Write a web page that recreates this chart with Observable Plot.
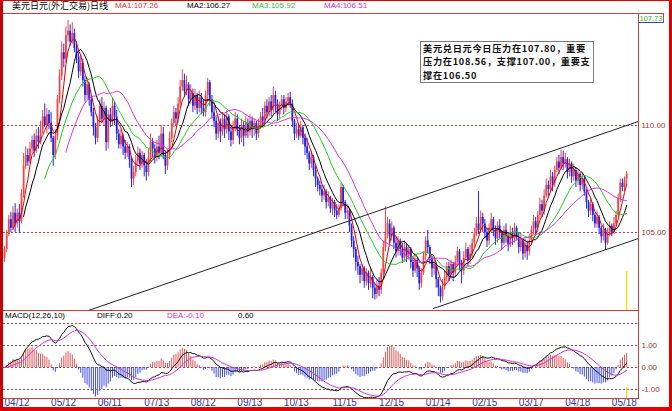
<!DOCTYPE html>
<html><head><meta charset="utf-8">
<script src="https://cdn.jsdelivr.net/npm/d3@7"></script>
<script src="https://cdn.jsdelivr.net/npm/@observablehq/plot@0.6"></script>
<style>
html,body{margin:0;padding:0;background:#fff;}
#wrap{position:relative;width:672px;height:411px;overflow:hidden;background:#fff;font-family:"Liberation Sans",Arial,sans-serif;}
.t{position:absolute;white-space:nowrap;font-size:8px;line-height:10px;color:#000;}
.ln{position:absolute;background:#cc4040;z-index:3;}
#main{position:absolute;left:0;top:13px;}
#macd{position:absolute;left:0;top:310px;}
#border{position:absolute;left:0;top:0;width:672px;height:411px;box-sizing:border-box;border-left:3px solid #c80000;border-right:3px solid #e00000;border-top:1px solid #e00000;border-bottom:4px solid #e80000;z-index:6;pointer-events:none;}
#note{position:absolute;left:420px;top:41px;width:172px;height:40px;border:1px solid #7a7a7a;background:#fff;z-index:4;}
.nl{position:absolute;left:2px;white-space:nowrap;font-family:"Noto Sans CJK SC",sans-serif;font-weight:bold;font-size:9.2px;line-height:13.3px;letter-spacing:0.7px;color:#111;}
#last{position:absolute;left:638px;top:13px;width:24px;height:8px;border:1px solid #cc4040;border-bottom:1px solid #3344cc;color:#30c030;font-size:7.5px;line-height:9px;text-align:center;z-index:4;background:#fff;}
</style></head>
<body><div id="wrap">
<div class="t" style="left:12px;top:1px;font-family:'Noto Sans CJK SC',sans-serif;font-size:9px;line-height:11px;top:0px;">美元日元(外汇交易)日线</div>
<div class="t" style="left:115px;top:1px;color:#e83030;">MA1:107.26</div>
<div class="t" style="left:187px;top:1px;">MA2:106.27</div>
<div class="t" style="left:252px;top:1px;color:#30c030;">MA3:105.92</div>
<div class="t" style="left:324px;top:1px;color:#d030d0;">MA4:106.51</div>
<div id="main"></div>
<div id="macd"></div>
<div class="t" style="left:5px;top:311px;z-index:4;">MACD(12,26,10)</div>
<div class="t" style="left:97px;top:311px;z-index:4;">DIFF:0.20</div>
<div class="t" style="left:167px;top:311px;z-index:4;color:#d030d0;">DEA:-0.10</div>
<div class="t" style="left:238px;top:311px;z-index:4;">0.60</div>
<div id="note">
<div class="nl" style="top:0px;">美元兑日元今日压力在107.80，重要</div>
<div class="nl" style="top:13.3px;">压力在108.56，支撑107.00，重要支</div>
<div class="nl" style="top:26.6px;">撑在106.50</div>
</div>
<div class="ln" style="left:3px;top:13px;width:661px;height:1px;"></div>
<div class="ln" style="left:638px;top:13px;width:1px;height:386px;"></div>
<div class="ln" style="left:3px;top:310px;width:636px;height:1px;"></div>
<div class="ln" style="left:3px;top:398px;width:636px;height:1px;"></div>
<div id="last">107.73</div>
<div id="border"></div>
</div>
<script>
const open = [
103.80,104.20,104.90,105.60,105.20,105.90,105.40,105.90,105.50,106.80,
108.10,108.60,108.30,108.90,109.30,108.80,109.50,109.20,109.80,110.40,
110.00,110.50,110.10,109.40,108.60,109.50,111.20,112.30,113.40,113.10,
114.20,114.40,113.90,114.30,113.60,113.20,112.50,112.90,112.10,111.40,
111.90,111.20,110.60,109.90,109.40,110.20,110.90,110.30,110.80,109.20,
110.50,110.20,110.90,110.40,109.60,109.10,109.50,109.00,108.70,109.00,
108.40,107.50,107.80,108.30,108.70,108.20,108.60,108.10,107.80,108.50,
109.20,108.90,108.50,109.00,108.70,109.60,108.60,108.10,108.60,109.40,
110.10,110.60,110.30,111.00,111.80,112.10,111.60,111.90,111.20,111.50,
110.90,111.40,110.80,111.30,110.80,110.60,111.40,112.00,111.20,110.60,
110.20,109.60,110.10,109.70,110.30,109.80,110.40,109.70,109.30,109.90,
110.30,109.80,109.40,110.00,109.50,110.10,109.70,110.20,109.80,110.10,
109.60,110.00,110.40,110.20,110.90,110.60,111.10,110.70,111.40,111.00,
110.50,110.90,111.20,110.80,111.10,111.30,111.00,110.20,109.60,109.80,
109.50,109.90,109.40,109.00,108.70,108.20,108.50,107.90,107.50,107.20,
107.00,106.70,106.90,106.40,106.60,106.10,106.40,106.00,105.80,106.10,
107.10,106.40,105.90,106.00,105.30,104.60,104.20,103.60,103.40,103.00,
103.30,102.70,103.10,102.60,102.90,102.40,102.10,102.50,102.30,103.10,
104.30,104.90,105.40,104.80,105.20,104.50,104.10,104.60,104.20,103.80,
104.30,103.90,104.20,103.60,103.20,103.70,103.30,102.60,103.10,103.90,
104.60,104.30,103.80,103.30,103.50,102.80,102.40,102.00,102.50,102.90,
103.40,103.00,103.50,103.10,103.60,104.10,103.50,103.20,103.80,104.20,
103.70,104.00,104.50,104.90,105.40,105.10,105.70,105.40,105.00,104.60,
105.20,105.60,105.10,104.70,105.30,105.00,104.50,105.10,104.80,104.40,
105.00,104.70,105.20,104.80,104.30,104.60,104.00,104.40,104.10,104.60,
105.10,105.50,105.20,105.80,106.30,106.00,106.70,107.20,107.00,107.60,
107.30,107.90,108.30,108.00,108.50,108.20,108.40,107.80,108.20,107.60,
107.90,107.40,107.70,107.20,107.50,106.90,106.40,106.00,106.30,105.80,
105.40,105.70,105.20,104.80,105.10,104.50,104.90,105.30,105.00,105.40,
105.80,106.60,107.30,107.10,107.50];
const high = [
104.35,105.10,105.80,105.95,106.20,106.35,106.10,106.30,107.00,108.70,
109.00,108.90,109.20,109.50,109.60,109.80,109.90,110.20,110.70,111.00,
110.80,110.70,110.60,109.50,109.80,111.40,112.60,113.90,113.80,114.60,
114.91,114.70,114.80,114.50,113.90,113.40,113.30,113.10,112.30,112.20,
112.00,111.40,110.80,110.10,110.40,111.20,111.30,111.10,110.90,110.70,
110.80,111.30,111.10,110.70,109.80,109.80,109.60,109.30,109.20,109.10,
108.50,108.10,108.60,109.00,108.90,108.80,108.70,108.40,108.90,109.60,
109.40,109.10,109.30,109.50,110.00,109.90,108.80,108.90,109.70,110.30,
110.90,110.80,111.30,112.10,112.60,112.40,112.30,112.00,111.90,111.70,
111.70,111.50,111.60,111.50,111.20,111.60,112.20,112.10,111.40,110.90,
110.40,110.40,110.30,110.60,110.50,110.70,110.50,109.90,110.20,110.60,
110.50,110.00,110.30,110.20,110.40,110.30,110.50,110.40,110.30,110.20,
110.30,110.60,110.80,111.10,111.20,111.30,111.40,111.80,111.60,111.20,
111.10,111.40,111.40,111.30,111.50,111.55,111.20,110.30,110.10,110.00,
110.20,110.00,109.60,109.40,108.80,108.80,108.60,108.10,107.60,107.40,
107.20,107.20,107.00,106.90,106.70,106.60,106.50,106.30,106.30,107.30,
107.20,106.50,106.20,106.10,105.40,104.80,104.30,103.90,103.50,103.50,
103.40,103.30,103.20,103.30,103.00,102.60,102.80,102.90,103.30,104.60,
106.20,105.70,105.60,105.50,105.30,104.80,104.80,104.70,104.50,104.60,
104.50,104.40,104.30,103.80,104.00,103.80,103.40,103.30,104.10,104.80,
105.10,104.40,103.90,103.80,103.60,102.90,102.50,102.80,103.20,103.60,
103.60,103.70,103.60,103.90,104.30,104.20,103.70,104.10,104.50,104.30,
104.40,104.70,105.20,105.70,106.90,106.00,105.90,105.60,105.20,105.40,
105.90,105.70,105.30,105.50,105.60,105.10,105.30,105.40,104.90,105.30,
105.20,105.40,105.30,105.00,104.90,104.70,104.70,104.60,104.90,105.30,
105.80,105.70,106.00,106.60,106.50,107.00,107.50,107.40,107.90,107.80,
108.10,108.50,108.60,108.85,108.80,108.70,108.50,108.40,108.30,108.20,
108.00,107.90,107.80,107.80,107.60,107.00,106.50,106.60,106.40,105.90,
106.00,105.80,105.30,105.40,105.20,105.20,105.50,105.40,105.70,106.00,
106.80,107.50,107.50,107.60,107.85];
const low = [
103.60,104.05,104.80,105.00,105.10,105.00,105.20,104.95,105.40,106.60,
107.95,108.10,108.20,108.70,108.50,108.70,108.90,109.10,109.60,109.90,
109.60,109.80,109.20,108.10,108.40,109.30,111.00,112.10,112.70,112.90,
113.90,113.70,113.80,113.40,112.90,112.20,112.30,111.80,111.10,111.20,
110.90,110.40,109.50,109.10,109.20,110.00,110.10,110.00,108.80,108.90,
109.90,110.00,110.00,109.30,108.90,108.90,108.60,108.40,108.50,108.00,
107.10,107.20,107.60,108.10,107.90,108.00,107.60,107.40,107.60,108.30,
108.50,108.20,108.30,108.40,108.50,108.40,107.70,107.90,108.40,109.20,
109.90,110.00,110.10,110.80,111.60,111.30,111.40,110.90,111.00,110.60,
110.70,110.50,110.60,110.50,110.40,110.40,111.10,110.90,110.30,109.90,
109.30,109.40,109.20,109.50,109.40,109.60,109.30,109.00,109.10,109.70,
109.50,109.10,109.20,109.00,109.40,109.40,109.50,109.40,109.50,109.30,
109.40,109.80,109.90,110.00,110.30,110.40,110.40,110.50,110.60,110.20,
110.30,110.70,110.50,110.60,110.90,110.80,109.90,109.30,109.40,109.30,
109.40,109.10,108.60,108.40,107.90,108.00,107.60,107.10,106.90,106.70,
106.40,106.50,106.10,106.20,105.90,105.80,105.70,105.60,105.70,106.00,
106.20,105.60,105.60,105.00,104.30,103.80,103.20,103.00,102.60,102.70,
102.40,102.50,102.30,102.40,101.90,101.85,101.90,102.00,102.10,103.00,
104.10,104.70,104.50,104.60,104.20,103.80,103.90,103.90,103.55,103.60,
103.60,103.70,103.30,102.90,103.10,102.90,102.30,102.40,103.00,103.70,
104.00,103.50,102.90,103.00,102.40,102.00,101.70,101.80,102.30,102.70,
102.70,102.80,102.70,102.90,103.40,103.20,102.60,103.00,103.70,103.40,
103.50,103.80,104.30,104.80,104.90,105.00,105.00,104.70,104.30,104.40,
105.00,104.80,104.40,104.50,104.70,104.20,104.40,104.50,104.10,104.30,
104.40,104.50,104.60,104.00,104.10,103.70,103.80,103.70,103.90,104.40,
104.90,104.90,105.00,105.60,105.70,105.80,106.60,106.60,106.90,106.90,
107.10,107.80,107.70,107.90,107.90,108.00,107.50,107.60,107.30,107.40,
107.10,107.20,106.90,107.00,106.70,106.10,105.70,105.80,105.50,105.20,
105.20,104.90,104.50,104.60,104.16,104.40,104.80,104.80,104.90,105.30,
105.70,106.40,106.90,106.90,107.20];
const close = [
104.20,104.90,105.60,105.20,105.90,105.40,105.90,105.50,106.80,108.10,
108.60,108.30,108.90,109.30,108.80,109.50,109.20,109.80,110.40,110.00,
110.50,110.10,109.40,108.60,109.50,111.20,112.30,113.40,113.10,114.20,
114.40,113.90,114.30,113.60,113.20,112.50,112.90,112.10,111.40,111.90,
111.20,110.60,109.90,109.40,110.20,110.90,110.30,110.80,109.20,110.50,
110.20,110.90,110.40,109.60,109.10,109.50,109.00,108.70,109.00,108.40,
107.50,107.80,108.30,108.70,108.20,108.60,108.10,107.80,108.50,109.20,
108.90,108.50,109.00,108.70,109.60,108.60,108.10,108.60,109.40,110.10,
110.60,110.30,111.00,111.80,112.10,111.60,111.90,111.20,111.50,110.90,
111.40,110.80,111.30,110.80,110.60,111.40,112.00,111.20,110.60,110.20,
109.60,110.10,109.70,110.30,109.80,110.40,109.70,109.30,109.90,110.30,
109.80,109.40,110.00,109.50,110.10,109.70,110.20,109.80,110.10,109.60,
110.00,110.40,110.20,110.90,110.60,111.10,110.70,111.40,111.00,110.50,
110.90,111.20,110.80,111.10,111.30,111.00,110.20,109.60,109.80,109.50,
109.90,109.40,109.00,108.70,108.20,108.50,107.90,107.50,107.20,107.00,
106.70,106.90,106.40,106.60,106.10,106.40,106.00,105.80,106.10,107.10,
106.40,105.90,106.00,105.30,104.60,104.20,103.60,103.40,103.00,103.30,
102.70,103.10,102.60,102.90,102.40,102.10,102.50,102.30,103.10,104.30,
104.90,105.40,104.80,105.20,104.50,104.10,104.60,104.20,103.80,104.30,
103.90,104.20,103.60,103.20,103.70,103.30,102.60,103.10,103.90,104.60,
104.30,103.80,103.30,103.50,102.80,102.40,102.00,102.50,102.90,103.40,
103.00,103.50,103.10,103.60,104.10,103.50,103.20,103.80,104.20,103.70,
104.00,104.50,104.90,105.40,105.10,105.70,105.40,105.00,104.60,105.20,
105.60,105.10,104.70,105.30,105.00,104.50,105.10,104.80,104.40,105.00,
104.70,105.20,104.80,104.30,104.60,104.00,104.40,104.10,104.60,105.10,
105.50,105.20,105.80,106.30,106.00,106.70,107.20,107.00,107.60,107.30,
107.90,108.30,108.00,108.50,108.20,108.40,107.80,108.20,107.60,107.90,
107.40,107.70,107.20,107.50,106.90,106.40,106.00,106.30,105.80,105.40,
105.70,105.20,104.80,105.10,104.50,104.90,105.30,105.00,105.40,105.80,
106.60,107.30,107.10,107.50,107.73];

const dateIdx = [0,22,44,66,88,110,132,155,177,199,221,243,265,287];
const dateLabels = ["04/12","05/12","06/11","07/13","08/12","09/13","10/13","11/15","12/15","01/14","02/15","03/17","04/18","05/18"];
const priceTicks = [105, 110];
const macdTicks = [1, 0, -1];
const macdGrid = [2, 1, 0, -1];
const maPeriods = [5, 10, 20, 30];
const maColors = ["#e00000", "#000000", "#20cc20", "#e030e0"];
const trendUpperIdx = [39.7, 299.6], trendUpperPx = [101.36, 110.19];
const trendLowerIdx = [202.7, 299.6], trendLowerPx = [101.45, 104.72];
const cursorPriceTop = 103.18, cursorMacdTop = -0.91;

const bars = close.map((c, i) => ({i, open: open[i], high: high[i], low: low[i], close: c, up: c >= open[i]}));
const lastIdx = bars.length - 1;
const upper = trendUpperIdx.map((x, k) => ({i: x, p: trendUpperPx[k]}));
const lower = trendLowerIdx.map((x, k) => ({i: x, p: trendLowerPx[k]}));

function ema(arr, n) {
  const a = 2 / (n + 1); const out = []; let e = arr[0];
  for (let k = 0; k < arr.length; k++) { if (k > 0) e = e + a * (arr[k] - e); out.push(e); }
  return out;
}
const e12 = ema(close, 12), e26 = ema(close, 26);
const diff = e12.map((v, k) => v - e26[k]);
const dea = ema(diff, 10);
const macdRows = close.map((c, k) => ({i: k, diff: diff[k], dea: dea[k], m: 2 * (diff[k] - dea[k])}));

const UP = "#e84848", DOWN = "#2222e6";
const xDom = [-0.5, 299.6];
const yMain = [101.355, 115.234];

const mainPlot = Plot.plot({
  width: 672, height: 297,
  marginLeft: 3, marginRight: 34, marginTop: 0, marginBottom: 0,
  style: {background: "transparent", fontFamily: "Liberation Sans, Arial, sans-serif"},
  x: {type: "linear", domain: xDom, axis: null},
  y: {domain: yMain, axis: null},
  marks: [
    Plot.ruleY(priceTicks, {stroke: "#b04040", strokeDasharray: "2,2", strokeWidth: 1}),
    Plot.ruleX(bars, {filter: d => d.up, x: "i", y1: "low", y2: "high", stroke: UP, strokeWidth: 1}),
    Plot.ruleX(bars, {filter: d => !d.up, x: "i", y1: "low", y2: "high", stroke: DOWN, strokeWidth: 1}),
    Plot.ruleX(bars, {filter: d => d.up, x: "i", y1: "open", y2: "close", stroke: UP, strokeWidth: 1.8}),
    Plot.ruleX(bars, {filter: d => !d.up, x: "i", y1: "open", y2: "close", stroke: DOWN, strokeWidth: 1.8}),
    ...maPeriods.map((k, j) => Plot.lineY(bars, Plot.windowY({k, anchor: "end", strict: true, reduce: "mean"}, {x: "i", y: "close", stroke: maColors[j], strokeWidth: 1}))),
    Plot.line(upper, {x: "i", y: "p", stroke: "#222", strokeWidth: 1, clip: true}),
    Plot.line(lower, {x: "i", y: "p", stroke: "#222", strokeWidth: 1, clip: true}),
    Plot.ruleX([lastIdx], {x: d => d, y1: cursorPriceTop, y2: yMain[0], stroke: "#f0e020", strokeWidth: 1.5}),
    Plot.text(priceTicks, {y: d => d, text: d => d.toFixed(2), frameAnchor: "right", dx: 3, textAnchor: "start", fill: "#a03434", fontSize: 8})
  ]
});
document.getElementById("main").appendChild(mainPlot);

const macdPlot = Plot.plot({
  width: 672, height: 101,
  marginLeft: 3, marginRight: 34, marginTop: 0, marginBottom: 13,
  style: {background: "transparent", fontFamily: "Liberation Sans, Arial, sans-serif"},
  x: {type: "linear", domain: xDom, axis: null},
  y: {domain: [-1.409, 2.591], axis: null},
  marks: [
    Plot.ruleY(macdGrid, {stroke: "#b04040", strokeDasharray: "2,2", strokeWidth: 1}),
    Plot.ruleX(macdRows, {filter: d => d.m >= 0, x: "i", y1: 0, y2: "m", stroke: "#e05858", strokeWidth: 1}),
    Plot.ruleX(macdRows, {filter: d => d.m < 0, x: "i", y1: 0, y2: "m", stroke: "#4050e6", strokeWidth: 1}),
    Plot.line(macdRows, {x: "i", y: "diff", stroke: "#111", strokeWidth: 1}),
    Plot.line(macdRows, {x: "i", y: "dea", stroke: "#d030d0", strokeWidth: 1}),
    Plot.ruleX([lastIdx], {x: d => d, y1: cursorMacdTop, y2: -1.409, stroke: "#f0e020", strokeWidth: 1.5}),
    Plot.text(macdTicks, {y: d => d, text: d => d.toFixed(2), frameAnchor: "right", dx: 3, textAnchor: "start", fill: "#a03434", fontSize: 8}),
    Plot.text(dateIdx, {x: d => d, text: (d, k) => dateLabels[k], frameAnchor: "bottom", dy: 7, textAnchor: "start", fill: "#2040a0", fontSize: 10})
  ]
});
document.getElementById("macd").appendChild(macdPlot);
</script>
</body></html>
